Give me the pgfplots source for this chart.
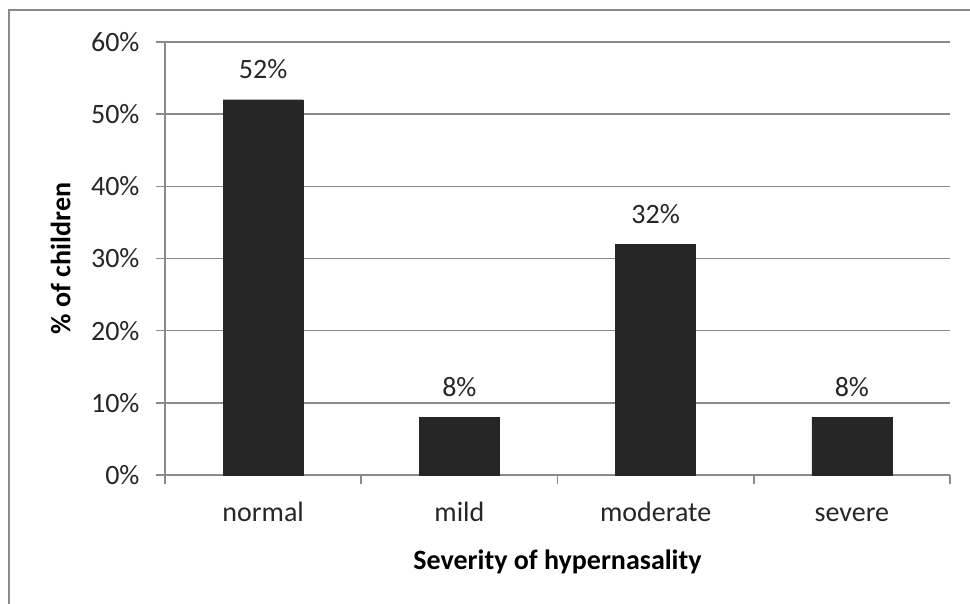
\documentclass[border=0pt]{standalone}
\usepackage{fontspec}
\setmainfont{Carlito}
\usepackage{pgfplots}
\pgfplotsset{compat=1.18}
\definecolor{barc}{HTML}{262626}
\definecolor{axc}{HTML}{8A8A8A}
\begin{document}
\begin{tikzpicture}[x=1pt,y=1pt]
\useasboundingbox (-165,-128) rectangle (805,475);
\draw[axc, line width=2.2pt] (-156,-140) -- (-156,465) -- (830,465);
\begin{axis}[
  at={(0,0)}, anchor=south west,
  scale only axis, width=785pt, height=433pt,
  xmin=-0.5, xmax=3.5, ymin=0, ymax=60,
  ybar, bar width=80pt,
  axis lines*=left,
  axis line style={axc, line width=1.5pt},
  every tick/.style={axc, line width=1.5pt},
  tick align=outside,
  major tick length=9pt,
  minor tick length=9pt,
  ytick={0,10,...,60},
  yticklabel={\pgfmathprintnumber{\tick}\%},
  ymajorgrids,
  grid style={axc, line width=1.5pt},
  xtick={0,1,2,3},
  xticklabels={normal,mild,moderate,severe},
  major x tick style={draw=none},
  minor xtick={-0.5,0.5,1.5,2.5,3.5},
  /pgf/number format/assume math mode=true,
  tick label style={font=\fontsize{28}{32}\selectfont, text=black!85},
  yticklabel style={xshift=-13pt},
  xticklabel style={yshift=-14pt, text height=20pt, text depth=6pt},
  xlabel={Severity of hypernasality},
  ylabel={\% of children},
  label style={font=\fontsize{28}{32}\selectfont\bfseries, text=black},
  xlabel style={at={(axis description cs:0.5,-0.2009)}, anchor=center},
  ylabel style={at={(axis description cs:-0.133,0.5)}, anchor=center},
  nodes near coords={\pgfmathprintnumber{\pgfplotspointmeta}\%},
  nodes near coords style={font=\fontsize{28}{32}\selectfont, text=black!85, yshift=17pt},
  clip=false,
]
\addplot[fill=barc, draw=barc] coordinates {(0,52) (1,8) (2,32) (3,8)};
\end{axis}
\end{tikzpicture}
\end{document}
